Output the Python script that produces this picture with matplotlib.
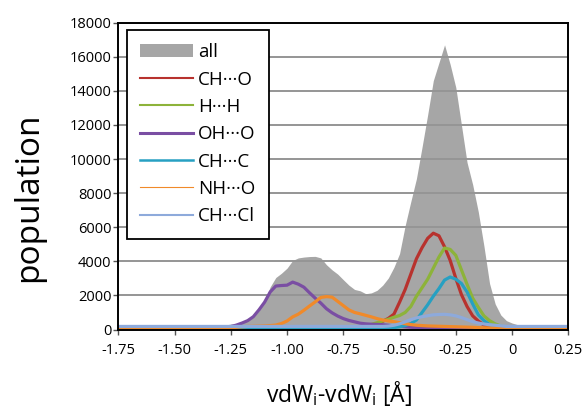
import matplotlib
matplotlib.use('Agg')
import matplotlib.pyplot as plt
from matplotlib.patches import Patch

plt.rcParams['font.family'] = ['Open Sans', 'DejaVu Sans']
plt.rcParams['mathtext.fontset'] = 'custom'
plt.rcParams['mathtext.rm'] = 'Open Sans'

# grid of vdW differences, step 0.025 from -1.75 to 0.25
dvdw = [round(-1.75 + 0.025 * i, 3) for i in range(81)]

pop_all = [220, 220, 220, 220, 220, 220, 220, 220, 220, 220,
           220, 220, 220, 220, 220, 220, 220, 220, 220, 260,
           320, 330, 420, 520, 720, 1100, 1700, 2500, 3050, 3300,
           3600, 4050, 4200, 4250, 4280, 4290, 4200, 3800, 3500, 3250,
           2920, 2600, 2350, 2270, 2100, 2150, 2300, 2600, 3020, 3650,
           4450, 6100, 7500, 8850, 10700, 12600, 14600, 15650, 16700, 15550,
           14200, 12000, 9800, 8500, 6900, 4900, 2700, 1500, 850, 520,
           380, 280, 230, 200, 200, 200, 200, 200, 200, 200,
           200]

ch_o = [60, 60, 60, 60, 60, 60, 60, 60, 60, 60,
        60, 60, 60, 60, 60, 60, 60, 60, 60, 60,
        60, 60, 60, 60, 60, 60, 60, 60, 60, 60,
        60, 60, 60, 60, 60, 60, 60, 60, 60, 60,
        60, 60, 60, 80, 120, 200, 320, 480, 650, 900,
        1600, 2350, 3250, 4150, 4800, 5350, 5650, 5500, 4850, 4050,
        3000, 2050, 1350, 800, 500, 260, 150, 100, 60, 60,
        60, 60, 60, 60, 60, 60, 60, 60, 60, 60,
        60]

h_h = [40, 40, 40, 40, 40, 40, 40, 40, 40, 40,
       40, 40, 40, 40, 40, 40, 40, 40, 40, 40,
       40, 40, 40, 40, 40, 40, 40, 40, 40, 40,
       40, 40, 40, 40, 40, 40, 40, 40, 40, 40,
       40, 60, 100, 160, 230, 300, 400, 500, 600, 720,
       820, 1000, 1350, 1950, 2450, 2950, 3600, 4250, 4780, 4700,
       4350, 3500, 2650, 1840, 1300, 800, 520, 330, 200, 130,
       90, 60, 60, 60, 60, 60, 60, 60, 60, 60,
       60]

oh_o = [40, 40, 40, 40, 40, 40, 40, 40, 40, 40,
        40, 40, 40, 40, 40, 50, 60, 70, 90, 120,
        170, 260, 380, 520, 750, 1150, 1600, 2200, 2550, 2580,
        2600, 2780, 2660, 2480, 2150, 1840, 1550, 1220, 980, 790,
        640, 530, 450, 370, 330, 310, 300, 280, 250, 220,
        190, 160, 130, 110, 90, 80, 70, 60, 55, 50,
        50, 50, 50, 50, 50, 50, 50, 50, 50, 50,
        50, 50, 50, 50, 50, 50, 50, 50, 50, 50,
        50]

ch_c = [60, 60, 60, 60, 60, 60, 60, 60, 60, 60,
        60, 60, 60, 60, 60, 60, 60, 60, 60, 60,
        60, 60, 60, 60, 60, 60, 60, 60, 60, 60,
        60, 60, 60, 60, 60, 60, 60, 60, 60, 60,
        60, 60, 60, 60, 60, 60, 60, 60, 80, 110,
        160, 230, 350, 560, 1000, 1450, 1950, 2400, 2900, 3080,
        2950, 2700, 2200, 1500, 860, 520, 290, 150, 100, 60,
        60, 60, 60, 60, 60, 60, 60, 60, 60, 60,
        60]

nh_o = [100, 100, 100, 100, 100, 100, 100, 100, 100, 100,
        100, 100, 100, 100, 100, 100, 100, 100, 100, 100,
        100, 130, 160, 180, 190, 200, 210, 230, 260, 350,
        500, 740, 900, 1130, 1380, 1620, 1880, 1930, 1900, 1650,
        1400, 1150, 1000, 920, 830, 740, 640, 560, 500, 460,
        400, 340, 290, 250, 230, 210, 200, 190, 180, 170,
        160, 150, 140, 130, 110, 100, 100, 100, 100, 100,
        100, 100, 100, 100, 100, 100, 100, 100, 100, 100,
        100]

ch_cl = [180, 180, 180, 180, 180, 180, 180, 180, 180, 180,
         180, 180, 180, 180, 180, 180, 180, 180, 180, 180,
         180, 180, 180, 180, 180, 180, 180, 180, 180, 180,
         180, 180, 180, 180, 180, 180, 180, 180, 180, 180,
         180, 180, 180, 180, 180, 180, 180, 180, 200, 250,
         330, 450, 580, 680, 750, 810, 860, 880, 890, 860,
         800, 700, 580, 460, 380, 320, 280, 250, 220, 180,
         180, 180, 180, 180, 180, 180, 180, 180, 180, 180,
         180]

series = [
    ('CH\u00b7\u00b7\u00b7O', ch_o, '#b8322e'),
    ('H\u00b7\u00b7\u00b7H', h_h, '#8db33a'),
    ('OH\u00b7\u00b7\u00b7O', oh_o, '#7a4ea3'),
    ('CH\u00b7\u00b7\u00b7C', ch_c, '#27a0c2'),
    ('NH\u00b7\u00b7\u00b7O', nh_o, '#f08a2a'),
    ('CH\u00b7\u00b7\u00b7Cl', ch_cl, '#8eaadb'),
]
legend_widths = [1.5, 1.5, 2.2, 1.8, 0.8, 1.5]

x_ticks = [-1.75, -1.5, -1.25, -1.0, -0.75, -0.5, -0.25, 0, 0.25]
x_tick_labels = ['-1.75', '-1.50', '-1.25', '-1.00', '-0.75', '-0.50',
                 '-0.25', '0', '0.25']
y_ticks = list(range(0, 18001, 2000))

fig = plt.figure(figsize=(5.86, 4.08), dpi=100)
ax = fig.add_axes([0.2019, 0.1924, 0.7679, 0.752])

ax.fill_between(dvdw, pop_all, color='#a6a6a6', lw=0, zorder=1)
handles = [Patch(facecolor='#a6a6a6', edgecolor='none', label='all')]
for label, vals, color in series:
    line, = ax.plot(dvdw, vals, color=color, lw=2.3, label=label, zorder=2)
    handles.append(line)

ax.set_xlim(-1.75, 0.25)
ax.set_ylim(0, 18000)
ax.set_xticks(x_ticks)
ax.set_xticklabels(x_tick_labels)
ax.set_yticks(y_ticks)
ax.tick_params(axis='both', direction='out', length=3.5, width=1,
               color='#555555', labelsize=10.5)
ax.tick_params(axis='y', pad=1.5)
ax.tick_params(axis='x', pad=6)
ax.yaxis.grid(True, color='#959595', lw=1.4)
ax.set_axisbelow('line')
for s in ax.spines.values():
    s.set_linewidth(1.4)
    s.set_color('black')

ax.set_xlabel(r'vdW$_\mathregular{i}$-vdW$_\mathregular{i}$ [Å]', fontsize=16.5)
ax.set_ylabel('population', fontsize=24)
ax.xaxis.set_label_coords(0.49, -0.21)
ax.xaxis.label.set_va('center')
ax.yaxis.set_label_coords(-0.2, 0.43)
ax.yaxis.label.set_va('center')

leg = ax.legend(handles=handles, loc='upper left',
                bbox_to_anchor=(0.0193, 0.976), borderaxespad=0,
                fontsize=13.5, handlelength=2.8, handletextpad=0.3,
                labelspacing=0.5, borderpad=0.7, fancybox=False,
                framealpha=1, edgecolor='black')
leg.get_frame().set_linewidth(1.3)
for ln, w in zip(leg.get_lines(), legend_widths):
    ln.set_linewidth(w)

fig.savefig('out.png', dpi=100)
